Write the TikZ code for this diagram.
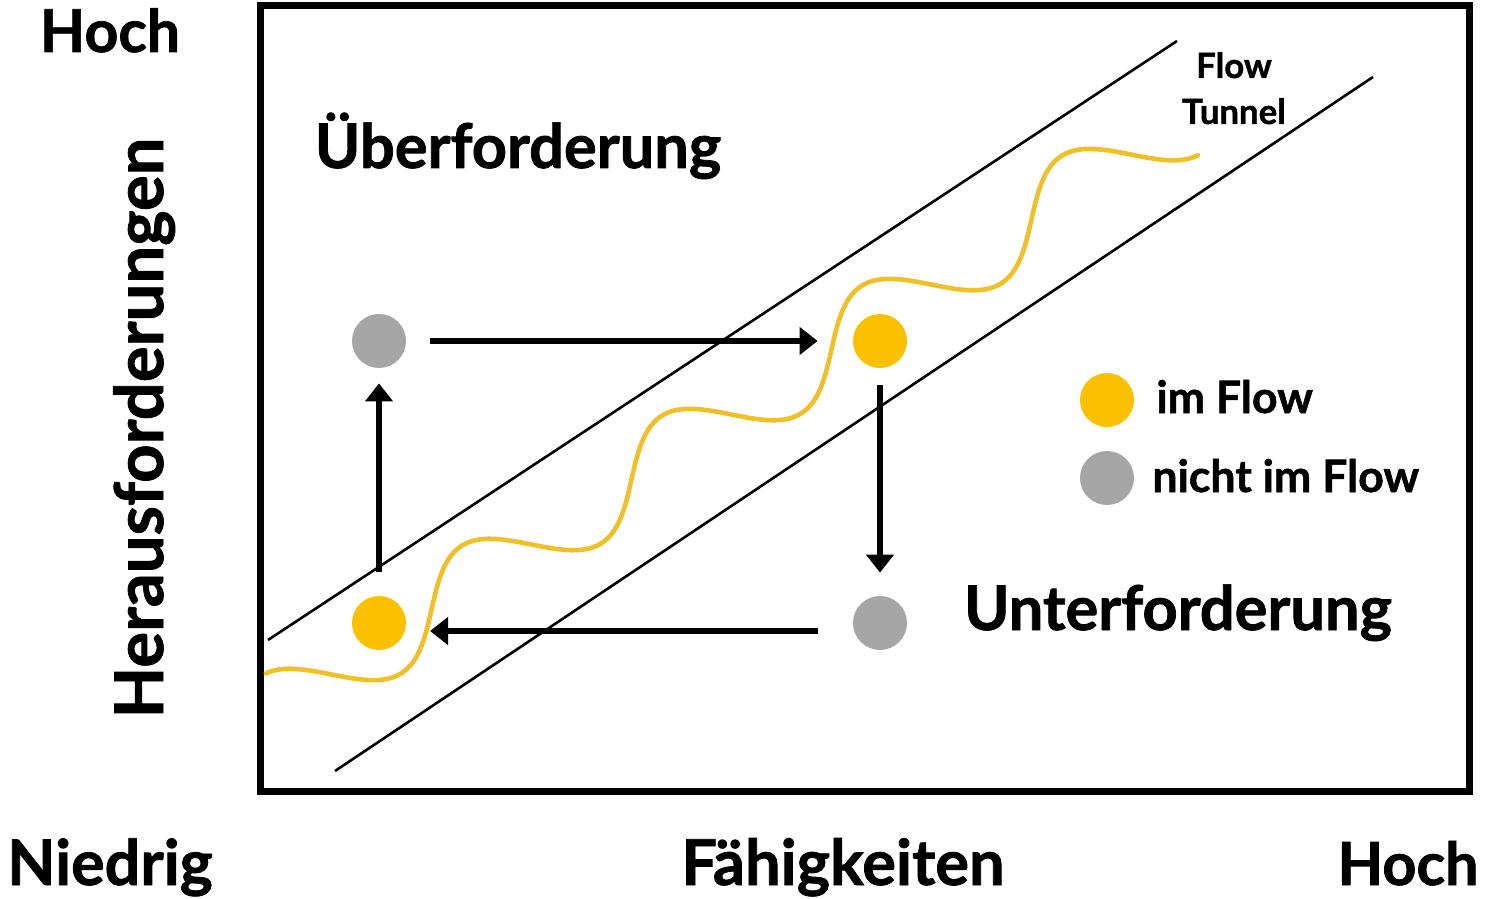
\documentclass[tikz,border=0pt]{standalone}
\usepackage{fontspec}
\setmainfont{Lato}[BoldFeatures={FakeBold=1.2}]
\usetikzlibrary{arrows.meta}
\definecolor{flowyellow}{HTML}{FBC000}
\definecolor{wavey}{HTML}{EFC02A}
\definecolor{dotgray}{HTML}{A6A6A6}
\newcommand{\fsz}[1]{\bfseries\fontsize{#1}{#1}\selectfont}
\tikzset{
  lbl/.style={inner sep=0pt, anchor=base},
  zone/.style={font=\fsz{30.7pt}, inner sep=0pt, anchor=base},
  leg/.style={font=\fsz{22.3pt}, inner sep=0pt, anchor=base west},
  small/.style={font=\fsz{17.4pt}, inner sep=0pt, anchor=base},
  ydot/.style={circle, fill=flowyellow, minimum size=27pt, inner sep=0pt},
  gdot/.style={circle, fill=dotgray, minimum size=27pt, inner sep=0pt},
  arr/.style={line width=3.2pt, -{Triangle[length=9pt,width=13.5pt]}},
  tunnel/.style={line width=1.3pt, black},
  wave/.style={line width=2.3pt, wavey, line cap=round},
}
\begin{document}
\begin{tikzpicture}[x=0.5pt,y=-0.5pt]
\useasboundingbox (0,0) rectangle (1485,899);
% frame
\draw[line width=3.5pt] (260,6) rectangle (1469,791);
% tunnel
\coordinate (ua) at (268,640);
\coordinate (ub) at (1177,41);
\coordinate (la) at (335,771);
\coordinate (lb) at (1373,77);
\draw[tunnel] (ua) -- (ub);
\draw[tunnel] (la) -- (lb);
% wave (sine along the tunnel axis)
\begin{scope}[shift={(531.5,544.5)}, rotate=33.02]
\draw[wave] plot[domain=-293:771, samples=320, smooth, variable=\s] (\s, {37*sin(1.50943*\s)});
\end{scope}
% dots
\node[gdot] (g1) at (379,341) {};
\node[ydot] (y2) at (880,341) {};
\node[ydot] (y1) at (379,623) {};
\node[gdot] (g2) at (880,623) {};
% arrows
\draw[arr, shorten <=12pt, shorten >=17.5pt] (g1) -- (y2);
\draw[arr, shorten <=8.5pt, shorten >=11.5pt] (y2) -- (g2);
\draw[arr, shorten <=31pt, shorten >=25.5pt] ([yshift=-4pt]g2.center) -- ([yshift=-4pt]y1.center);
\draw[arr, shorten <=12pt, shorten >=7.5pt] (y1) -- (g1);
% legend
\node[ydot] (ly) at (1107,400) {};
\node[gdot] (lg) at (1107,478) {};
\node[leg] (lyt) at (1156,413) {im Flow};
\node[leg] (lgt) at (1152,492) {nicht im Flow};
% zone labels
\node[zone] (ueber) at (518,168) {Überforderung};
\node[zone] (unter) at (1178,630) {Unterforderung};
\node[small] (flow) at (1234,78) {Flow};
\node[small] (tun) at (1234,124) {Tunnel};
% axis labels
\node[lbl, font=\fsz{29.5pt}] (hochy) at (110,52) {Hoch};
\node[lbl, font=\fsz{33.5pt}, rotate=90] (yax) at (163,428) {Herausforderungen};
\node[lbl, font=\fsz{31.4pt}] (nied) at (110,885) {Niedrig};
\node[lbl, font=\fsz{31.6pt}] (faeh) at (843,885) {Fähigkeiten};
\node[lbl, font=\fsz{29.7pt}] (hochx) at (1408,885) {Hoch};
\end{tikzpicture}
\end{document}
